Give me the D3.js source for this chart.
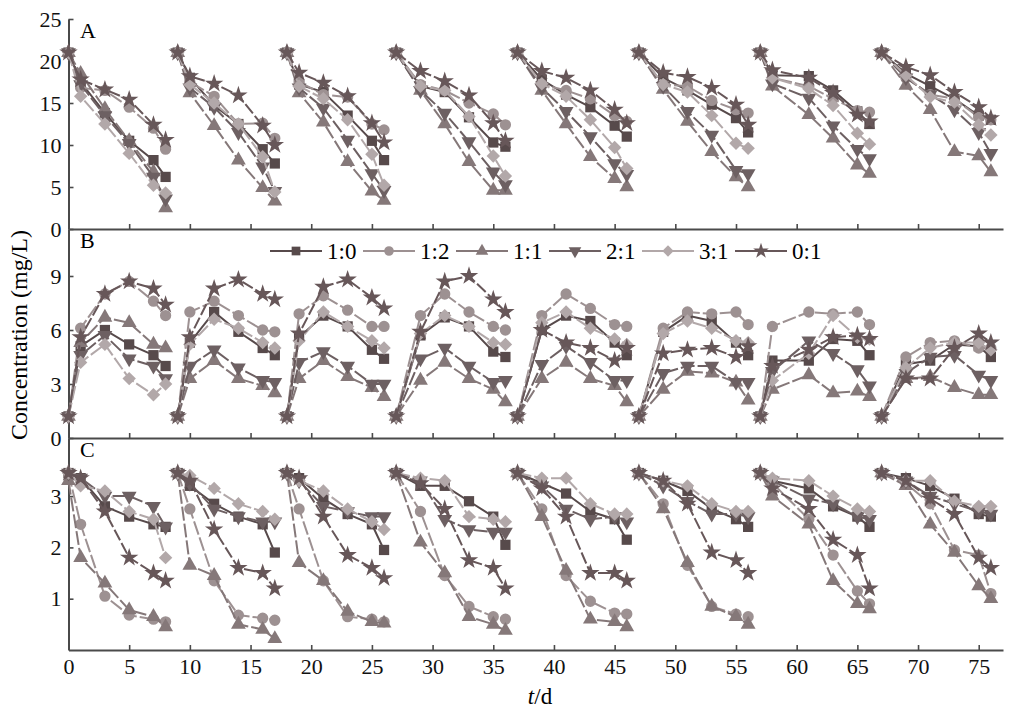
<!DOCTYPE html>
<html>
<head>
<meta charset="utf-8">
<script src="https://cdnjs.cloudflare.com/ajax/libs/d3/7.8.5/d3.min.js"></script>
<style>
body { margin: 0; background: #fff; }
svg { display: block; font-family: "Liberation Serif", "Times New Roman", serif; }
</style>
</head>
<body>
<svg id="chart" width="1015" height="712"></svg>
<script>
// ratios (legend order)
var seriesNames = ["1:0", "1:2", "1:1", "2:1", "3:1", "0:1"];

// sampling days, 8 cycles x 6 samples
var days = [0,1,3,5,7,8, 9,10,12,14,16,17, 18,19,21,23,25,26, 27,29,31,33,35,36,
            37,39,41,43,45,46, 47,49,51,53,55,56, 57,58,61,63,65,66, 67,69,71,73,75,76];

// panel A
var A_1_0 = [21,17.5,13.8,10.5,8.2,6.2, 21,18,14.7,12.5,9.5,7.8, 21,17.2,16.3,13.5,10.5,8.2, 21,17,16.3,13.3,10.3,9.8,
             21,17.8,16,14.5,12.3,11, 21,18,16.5,14.8,13.2,11.5, 21,18.3,18.2,16.5,14,12.5, 21,18.5,17,15.5,13.5,13];
var A_1_2 = [21,16.8,16.5,14.5,12,9.5, 21,17.5,15.8,12.5,12.6,10.8, 21,17.5,16,15.7,12.5,11.8, 21,17.2,16.5,15,13.7,12.4,
             21,17.2,16.5,15.5,13.5,12.8, 21,17.2,17,15.3,14.2,13.8, 21,18,17,15.5,14.1,13.9, 21,18,16,15.5,13.3,13];
var A_1_1 = [21,18.5,14.3,10.5,6.8,2.5, 21,16.2,12.3,8.2,4.9,3.3, 21,16.2,12.7,8,4.5,3.4, 21,16.5,12.5,8,4.6,4.6,
             21,16.5,12.5,8.6,6,5, 21,16.6,12.8,9.2,6.2,5, 21,17,13.6,10.8,7.6,6.6, 21,17.1,14.2,9.2,8.7,6.8];
var A_2_1 = [21,17.2,13.5,10.2,6.2,3.6, 21,16.8,14.5,11.5,7.4,4.5, 21,16.8,14.4,10.6,6.6,4.6, 21,16.5,13.8,10.4,6.8,5.3,
             21,16.8,14,11,7.8,6.5, 21,17,14,11.2,7,6.6, 21,17.3,15.6,12.3,9.5,8.4, 21,18,16,14.2,11.5,9];
var A_3_1 = [21,15.8,12.5,9,5.2,4.3, 21,17.2,15,12.5,8.6,4.4, 21,17,15.5,13,8.9,5.2, 21,17,16.5,13.4,8.7,6.3,
             21,17.3,15.8,13,9.7,7.2, 21,17.2,16.3,13.5,10.2,9.6, 21,18,16.7,14.7,11.4,10.1, 21,18.3,15.7,15.1,12.4,11.2];
var A_0_1 = [21,17.8,16.6,15.4,12.4,10.6, 21,18.2,17.3,15.9,12.3,10, 21,18.6,17.4,15.8,12.6,10.3, 21,18.8,17.6,15.9,12.6,10.5,
             21,18.8,18,16.5,14.2,12.6, 21,18.6,18.1,16.8,14.8,12.4, 21,18.9,18,16.2,13.6,12.8, 21,19.3,18.3,16.3,14.5,13.2];

// panel B
var B_1_0 = [1.2,5.1,6,5.2,4.6,4, 1.2,5.3,7,5.9,5,4.6, 1.2,5.6,6.8,6.2,4.9,4.4, 1.2,5.7,6.7,6.2,4.8,4.5,
             1.2,6,6.8,6.5,5.3,4.6, 1.2,5.9,6.8,6.5,5.3,4.6, 1.2,4.3,4.3,5.5,5.4,4.6, 1.2,4.1,4.3,5.2,5.1,4.5];
var B_1_2 = [1.2,6.1,8,8.7,7.6,6.8, 1.2,7,7.6,6.8,6,5.9, 1.2,6.9,7.9,7.1,6.2,6.2, 1.2,6.8,8,7,6.2,6,
             1.2,6.8,8,7.2,6.3,6.2, 1.2,6.1,7,6.9,7,6.3, 1.2,6.2,7,6.9,7,6.3, 1.2,4.5,5.3,5.4,5,5];
var B_1_1 = [1.2,5.3,6.7,6.4,5.2,5, 1.2,3.3,4.3,3.3,2.9,2.5, 1.2,3.3,4.3,3.4,2.8,2.3, 1.2,3.2,4.2,3.3,2.7,2,
             1.2,3.3,4.2,3.3,2.9,2, 1.2,2.7,3.7,3.6,3.1,2.1, 1.2,2.7,3.5,2.5,2.6,2.3, 1.2,3.3,3.4,2.8,2.4,2.4];
var B_2_1 = [1.2,4.6,5.7,4.4,4,3.3, 1.2,4,4.9,3.9,3.2,3.1, 1.2,4.2,4.8,4,3,3, 1.2,4.4,5,4,3.1,3.2,
             1.2,4.1,5.1,4.2,3.2,3.2, 1.2,3.6,4,4,3.1,3.1, 1.2,3.7,5.4,4.7,3.8,2.9, 1.2,3.6,4.5,4.6,3.5,3.2];
var B_3_1 = [1.2,4.2,5.2,3.3,2.4,3, 1.2,5.2,6.6,6.1,5.3,5, 1.2,5.4,7,6.2,5.4,5, 1.2,5.8,6.8,6.2,5.3,5.2,
             1.2,6.4,7,6.1,5.5,5.2, 1.2,5.8,6.5,6.1,5.4,5.3, 1.2,3.2,4.7,6.8,5.6,5.5, 1.2,3.9,5,5.3,5.3,4.9];
var B_0_1 = [1.2,5.6,8,8.7,8.3,7.4, 1.2,5.6,8.3,8.8,8,7.7, 1.2,5.8,8.4,8.8,7.8,7.2, 1.2,5.9,8.7,9,7.7,7,
             1.2,6,5.3,5,4.3,5, 1.2,4.7,4.9,5,4.5,5.1, 1.2,4,4.9,5.6,5.7,5.5, 1.2,3.3,3.3,5,5.8,5.3];

// panel C
var C_1_0 = [3.45,3.35,2.8,2.6,2.45,2.4, 3.45,3.2,2.85,2.6,2.45,1.9, 3.45,3.35,2.95,2.65,2.45,1.95, 3.45,3.2,3.2,2.9,2.6,2.05,
             3.45,3.25,3.05,2.7,2.55,2.15, 3.45,3.3,3.1,2.75,2.55,2.4, 3.45,3.3,3.15,2.8,2.6,2.4, 3.45,3.35,3.2,2.95,2.65,2.6];
var C_1_2 = [3.45,2.45,1.05,0.68,0.6,0.55, 3.45,2.75,1.35,0.68,0.62,0.58, 3.45,2.75,1.35,0.65,0.6,0.55, 3.45,2.7,1.45,0.85,0.65,0.6,
             3.45,2.75,1.45,0.95,0.72,0.7, 3.45,2.85,1.65,0.85,0.7,0.65, 3.45,3.25,2.55,1.85,1.15,0.9, 3.45,3.25,2.85,1.95,1.85,1.1];
var C_1_1 = [3.3,1.8,1.3,0.78,0.65,0.45, 3.45,1.65,1.45,0.5,0.4,0.22, 3.45,1.7,1.35,0.75,0.55,0.52, 3.45,2.1,1.5,0.65,0.5,0.38,
             3.45,2.6,1.55,0.6,0.55,0.45, 3.45,2.75,1.7,0.85,0.65,0.5, 3.45,3,2.45,1.35,0.9,0.8, 3.45,3.2,2.45,1.9,1.25,1];
var C_2_1 = [3.45,3.35,3,3,2.8,2.4, 3.45,3.25,2.75,2.6,2.5,2.5, 3.45,3.3,2.8,2.7,2.6,2.6, 3.45,3.3,2.55,2.35,2.3,2.3,
             3.45,3.2,2.75,2.55,2.6,2.5, 3.45,3.2,2.9,2.65,2.65,2.6, 3.45,3.3,2.95,2.85,2.6,2.55, 3.45,3.3,3,2.85,2.7,2.65];
var C_3_1 = [3.45,3.2,3.1,2.7,2.55,1.8, 3.45,3.4,3.15,2.85,2.7,2.55, 3.45,3.3,3.1,2.75,2.5,2.35, 3.45,3.35,3.3,2.6,2.55,2.5,
             3.45,3.35,3.35,2.85,2.65,2.65, 3.45,3.3,3.2,2.85,2.7,2.7, 3.45,3.35,3.3,3,2.75,2.7, 3.45,3.3,3.3,2.9,2.8,2.8];
var C_0_1 = [3.45,3.35,2.7,1.8,1.5,1.35, 3.45,3.3,2.35,1.6,1.5,1.2, 3.45,3.35,2.6,1.85,1.6,1.4, 3.45,3.25,2.75,1.75,1.6,1.2,
             3.45,3.15,2.6,1.5,1.5,1.35, 3.45,3.3,2.85,1.9,1.75,1.5, 3.45,3.15,2.75,2.15,1.85,1.2, 3.45,3.3,2.95,2.65,1.8,1.6];

var yTicksA = [0, 5, 10, 15, 20, 25],
    yTicksB = [0, 3, 6, 9],
    yTicksC = [1, 2, 3],
    xTicks = d3.range(0, 80, 5);

// styles per series
var colors = ['#574a4b', '#9d9192', '#857879', '#6d6062', '#b2a8a9', '#675759'],
    symbols = [d3.symbolSquare, d3.symbolCircle, d3.symbolTriangle, d3.symbolTriangle, d3.symbolSquare, d3.symbolStar],
    sizes = [105, 100, 95, 95, 90, 105],
    rotations = [0, 0, 0, 180, 45, 0],
    dashes = [null, '14,3', '14,3', '14,3', '14,3', '12,3'];

var svg = d3.select('#chart'),
    axisColor = '#4a4a4a',
    cycleLen = 6;

var x = d3.scaleLinear().domain([0, 77]).range([68.5, 1003]);

var panels = [
    {label: 'A', top: 19,  bottom: 229, max: 25,         ticks: yTicksA, data: [A_1_0, A_1_2, A_1_1, A_2_1, A_3_1, A_0_1]},
    {label: 'B', top: 229, bottom: 438, max: 209 / 18,   ticks: yTicksB, data: [B_1_0, B_1_2, B_1_1, B_2_1, B_3_1, B_0_1]},
    {label: 'C', top: 438, bottom: 650, max: 212 / 51.3, ticks: yTicksC, data: [C_1_0, C_1_2, C_1_1, C_2_1, C_3_1, C_0_1]}
];

function marker(sel, i) {
    sel.attr('d', d3.symbol().type(symbols[i]).size(sizes[i]))
        .attr('fill', colors[i]);
}

panels.forEach(function(p, pi) {
    var y = d3.scaleLinear().domain([0, p.max]).range([p.bottom, p.top]);
    var g = svg.append('g');

    // y axis
    var ya = g.append('g')
        .attr('transform', 'translate(' + x.range()[0] + ',0)')
        .call(d3.axisLeft(y).tickValues(p.ticks).tickFormat(d3.format('d'))
            .tickSizeInner(-5).tickSizeOuter(0).tickPadding(7));

    // x axis at panel bottom
    var xa = g.append('g')
        .attr('transform', 'translate(0,' + p.bottom + ')')
        .call(d3.axisBottom(x).tickValues(xTicks).tickSizeInner(-5).tickSizeOuter(0).tickPadding(8)
            .tickFormat(pi === 2 ? d3.format('d') : ''));

    [ya, xa].forEach(function(a) {
        a.select('.domain').attr('stroke', axisColor).attr('stroke-width', 2);
        a.selectAll('.tick line').attr('stroke', axisColor).attr('stroke-width', 1.6);
        a.selectAll('text').attr('fill', '#111').style('font-size', '22px')
            .style('font-family', '"Liberation Serif", "Times New Roman", serif');
    });

    g.append('text')
        .attr('x', 80).attr('y', p.top + 19)
        .style('font-size', '22px')
        .text(p.label);

    var line = d3.line()
        .x(function(d) { return x(d[0]); })
        .y(function(d) { return y(d[1]); });

    p.data.forEach(function(vals, si) {
        var pts = vals.map(function(v, k) { return [days[k], v]; });
        var cycles = d3.range(pts.length / cycleLen).map(function(c) {
            return pts.slice(c * cycleLen, (c + 1) * cycleLen);
        });
        var sg = g.append('g');
        sg.selectAll('path.ln')
            .data(cycles)
            .enter().append('path')
            .attr('class', 'ln')
            .attr('d', line)
            .attr('fill', 'none')
            .attr('stroke', colors[si])
            .attr('stroke-width', 2)
            .attr('stroke-dasharray', dashes[si]);
        sg.selectAll('path.mk')
            .data(pts)
            .enter().append('path')
            .attr('class', 'mk')
            .attr('transform', function(d) {
                return 'translate(' + x(d[0]) + ',' + y(d[1]) + ') rotate(' + rotations[si] + ')';
            })
            .call(marker, si);
    });
});

// legend
var lg = svg.append('g').attr('transform', 'translate(270,251)');
seriesNames.forEach(function(name, i) {
    var it = lg.append('g').attr('transform', 'translate(' + (i * 93) + ',0)');
    it.append('line')
        .attr('x1', 0).attr('x2', 52)
        .attr('stroke', colors[i]).attr('stroke-width', 2);
    it.append('path')
        .attr('transform', 'translate(26,0) rotate(' + rotations[i] + ') scale(0.85)')
        .call(marker, i);
    it.append('text')
        .attr('x', 57).attr('y', 8)
        .style('font-size', '23px')
        .text(name);
});

// axis titles
svg.append('text')
    .attr('transform', 'translate(27,335) rotate(-90)')
    .attr('text-anchor', 'middle')
    .style('font-size', '24px')
    .text('Concentration (mg/L)');

svg.append('text')
    .attr('x', 540).attr('y', 704)
    .attr('text-anchor', 'middle')
    .style('font-size', '23px')
    .html('<tspan font-style="italic">t</tspan>/d');
</script>
</body>
</html>
